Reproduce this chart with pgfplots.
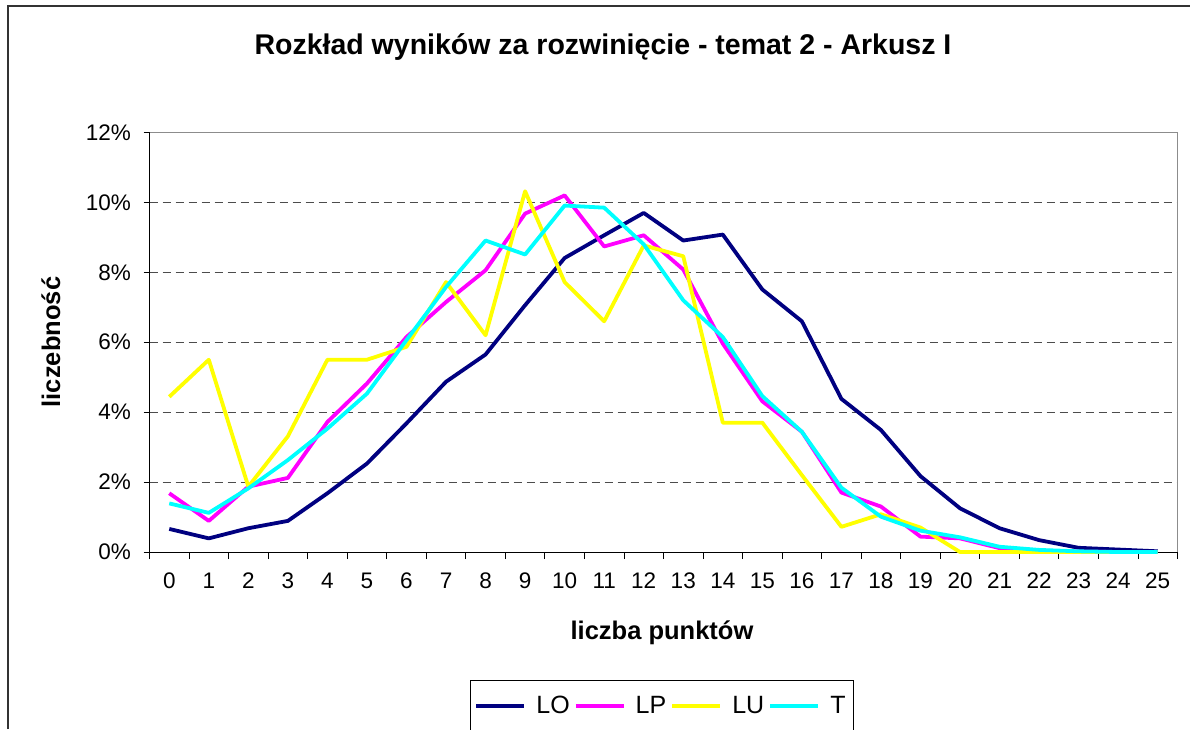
\documentclass[border=0pt]{standalone}
\usepackage{pgfplots}
\pgfplotsset{compat=1.18}
\usepackage{fontspec}
\setmainfont{Liberation Sans}
\definecolor{cLO}{RGB}{0,0,128}
\definecolor{cLP}{RGB}{255,0,255}
\definecolor{cLU}{RGB}{255,255,0}
\definecolor{cT}{RGB}{0,255,255}
\begin{document}
\begin{tikzpicture}[x=1pt,y=1pt]
\useasboundingbox (0,0) rectangle (1190,729);
\draw[line width=1.5pt, black!80] (8,0) -- (8,723) -- (1195,723);
\node[font=\fontsize{28.5}{32}\selectfont\bfseries] at (603,682) {Rozkład wyników za rozwinięcie - temat 2 - Arkusz I};
\node[font=\fontsize{25.5}{30}\selectfont\bfseries, rotate=90] at (51,387) {liczebność};
\node[font=\fontsize{25.5}{30}\selectfont\bfseries] at (662,96) {liczba punktów};
\begin{axis}[
  at={(149.5pt,177pt)}, anchor=south west,
  scale only axis, width=1028pt, height=419.5pt,
  xmin=-0.5, xmax=25.5, ymin=0, ymax=12,
  xtick={0,...,25},
  minor xtick={-0.5,0.5,...,25.5},
  ytick={0,2,...,12},
  yticklabel={\pgfmathprintnumber{\tick}\%},
  major x tick style={draw=none},
  tick align=outside,
  major tick length=6pt, minor tick length=7pt,
  tick style={black, line width=0.8pt},
  axis x line*=bottom, axis y line*=left,
  axis line style={black, line width=1pt, -},
  ymajorgrids, grid style={black!70, line width=1pt, dash pattern=on 8pt off 5pt},
  /pgf/number format/assume math mode=true,
  ticklabel style={font=\fontsize{22.5}{26}\selectfont},
  xticklabel style={yshift=-11pt},
  yticklabel style={xshift=-9pt},
  legend columns=4,
  legend style={at={(0.4985,-0.305)}, anchor=north, draw=black, line width=0.8pt,
    font=\fontsize{25}{28}\selectfont, inner xsep=4pt, inner ysep=14pt,
    /tikz/every even column/.append style={column sep=0pt},
    /tikz/every odd column/.append style={column sep=6pt},
    nodes={inner xsep=4pt}},
  legend image code/.code={\draw[#1, line width=4pt] (0pt,0pt) -- (48pt,0pt);},
  every axis plot/.append style={line width=3.8pt, line join=round},
  clip=false,
]
\draw[black!45, line width=1.5pt] (rel axis cs:0,1) -- (rel axis cs:1,1) -- (rel axis cs:1,0);
\addplot[cLO, no markers] coordinates {
(0,0.66) (1,0.39) (2,0.68) (3,0.89) (4,1.68) (5,2.53) (6,3.68) (7,4.87) (8,5.65) (9,7.06)
(10,8.41) (11,9.06) (12,9.70) (13,8.91) (14,9.08) (15,7.51) (16,6.60) (17,4.38) (18,3.49) (19,2.17)
(20,1.25) (21,0.68) (22,0.34) (23,0.12) (24,0.07) (25,0.02)};
\addlegendentry{LO}
\addplot[cLP, no markers] coordinates {
(0,1.68) (1,0.89) (2,1.87) (3,2.12) (4,3.72) (5,4.82) (6,6.15) (7,7.15) (8,8.06) (9,9.68)
(10,10.20) (11,8.74) (12,9.06) (13,8.08) (14,5.96) (15,4.31) (16,3.44) (17,1.70) (18,1.30) (19,0.44)
(20,0.39) (21,0.11) (22,0.04) (23,0.01) (24,0.0) (25,0.0)};
\addlegendentry{LP}
\addplot[cLU, no markers] coordinates {
(0,4.44) (1,5.50) (2,1.87) (3,3.31) (4,5.50) (5,5.50) (6,5.87) (7,7.72) (8,6.20) (9,10.32)
(10,7.72) (11,6.60) (12,8.77) (13,8.46) (14,3.70) (15,3.70) (16,2.20) (17,0.72) (18,1.08) (19,0.70)
(20,0.0) (21,0.0) (22,0.0) (23,0.0) (24,0.0) (25,0.0)};
\addlegendentry{LU}
\addplot[cT, no markers] coordinates {
(0,1.39) (1,1.12) (2,1.82) (3,2.63) (4,3.53) (5,4.53) (6,6.06) (7,7.58) (8,8.91) (9,8.51)
(10,9.91) (11,9.85) (12,8.80) (13,7.20) (14,6.15) (15,4.46) (16,3.44) (17,1.84) (18,1.01) (19,0.61)
(20,0.42) (21,0.15) (22,0.06) (23,0.02) (24,0.0) (25,0.0)};
\addlegendentry{T}
\end{axis}
\end{tikzpicture}
\end{document}
